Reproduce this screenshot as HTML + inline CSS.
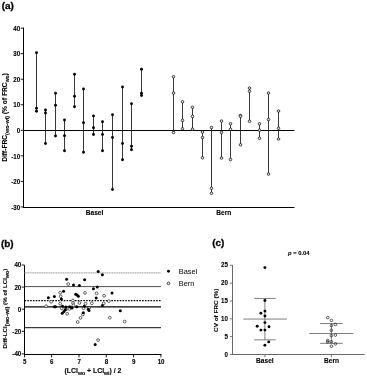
<!DOCTYPE html>
<html><head><meta charset="utf-8"><title>Figure</title>
<style>
html,body{margin:0;padding:0;background:#fff;}
body{width:367px;height:377px;overflow:hidden;}
text{stroke:#000;stroke-width:0.1px;}
svg{display:block;font-family:"Liberation Sans", sans-serif;fill:#000;will-change:transform;opacity:0.999;}
</style></head><body>
<svg width="367" height="377" viewBox="0 0 367 377">
<rect x="0" y="0" width="367" height="377" fill="#fff"/>
<text transform="translate(1.8,8.7) scale(1,1)" font-size="9.9" font-weight="bold" text-anchor="start" style="stroke-width:0.3px">(a)</text>
<line x1="23.5" y1="27.6" x2="23.5" y2="208" stroke="#000" stroke-width="1" />
<line x1="23.0" y1="207.5" x2="294.5" y2="207.5" stroke="#000" stroke-width="1" />
<line x1="23.5" y1="130.5" x2="294.5" y2="130.5" stroke="#000" stroke-width="1" />
<line x1="20.7" y1="28.1" x2="23.5" y2="28.1" stroke="#000" stroke-width="0.9" />
<text transform="translate(20.2,30.8) scale(0.93,1)" font-size="6.7" font-weight="bold" text-anchor="end" >40</text>
<line x1="20.7" y1="53.65" x2="23.5" y2="53.65" stroke="#000" stroke-width="0.9" />
<text transform="translate(20.2,56.35) scale(0.93,1)" font-size="6.7" font-weight="bold" text-anchor="end" >30</text>
<line x1="20.7" y1="79.2" x2="23.5" y2="79.2" stroke="#000" stroke-width="0.9" />
<text transform="translate(20.2,81.9) scale(0.93,1)" font-size="6.7" font-weight="bold" text-anchor="end" >20</text>
<line x1="20.7" y1="104.75" x2="23.5" y2="104.75" stroke="#000" stroke-width="0.9" />
<text transform="translate(20.2,107.45) scale(0.93,1)" font-size="6.7" font-weight="bold" text-anchor="end" >10</text>
<line x1="20.7" y1="130.3" x2="23.5" y2="130.3" stroke="#000" stroke-width="0.9" />
<text transform="translate(20.2,133.0) scale(0.93,1)" font-size="6.7" font-weight="bold" text-anchor="end" >0</text>
<line x1="20.7" y1="155.85" x2="23.5" y2="155.85" stroke="#000" stroke-width="0.9" />
<text transform="translate(20.2,158.54999999999998) scale(0.93,1)" font-size="6.7" font-weight="bold" text-anchor="end" >-10</text>
<line x1="20.7" y1="181.4" x2="23.5" y2="181.4" stroke="#000" stroke-width="0.9" />
<text transform="translate(20.2,184.1) scale(0.93,1)" font-size="6.7" font-weight="bold" text-anchor="end" >-20</text>
<line x1="20.7" y1="206.95" x2="23.5" y2="206.95" stroke="#000" stroke-width="0.9" />
<text transform="translate(20.2,209.64999999999998) scale(0.93,1)" font-size="6.7" font-weight="bold" text-anchor="end" >-30</text>
<text transform="translate(7.1,117.5) rotate(-90)" font-size="6.65" font-weight="bold" text-anchor="middle">Diff-FRC<tspan font-size="5.5" dy="2">(wo-wi)</tspan><tspan dy="-2"> (% of FRC</tspan><tspan font-size="5" dy="2">wo</tspan><tspan dy="-2">)</tspan></text>
<line x1="36.5" y1="52.8" x2="36.5" y2="111.3" stroke="#222" stroke-width="0.9" />
<circle cx="36.5" cy="52.8" r="1.45" fill="#000"/>
<circle cx="36.5" cy="108.3" r="1.45" fill="#000"/>
<circle cx="36.5" cy="111.3" r="1.45" fill="#000"/>
<line x1="45.5" y1="110.05" x2="45.5" y2="143.55" stroke="#222" stroke-width="0.9" />
<circle cx="45.5" cy="110.05" r="1.45" fill="#000"/>
<circle cx="45.5" cy="113.05" r="1.45" fill="#000"/>
<circle cx="45.5" cy="143.55" r="1.45" fill="#000"/>
<line x1="55.5" y1="93.3" x2="55.5" y2="136.05" stroke="#222" stroke-width="0.9" />
<circle cx="55.5" cy="93.3" r="1.45" fill="#000"/>
<circle cx="55.5" cy="105.3" r="1.45" fill="#000"/>
<circle cx="55.5" cy="136.05" r="1.45" fill="#000"/>
<line x1="64.5" y1="120.05" x2="64.5" y2="150.8" stroke="#222" stroke-width="0.9" />
<circle cx="64.5" cy="120.05" r="1.45" fill="#000"/>
<circle cx="64.5" cy="135.8" r="1.45" fill="#000"/>
<circle cx="64.5" cy="150.8" r="1.45" fill="#000"/>
<line x1="74.5" y1="74.3" x2="74.5" y2="106.7" stroke="#222" stroke-width="0.9" />
<circle cx="74.5" cy="74.3" r="1.45" fill="#000"/>
<circle cx="74.5" cy="96.3" r="1.45" fill="#000"/>
<circle cx="74.5" cy="106.7" r="1.45" fill="#000"/>
<line x1="83.5" y1="89.05" x2="83.5" y2="152.3" stroke="#222" stroke-width="0.9" />
<circle cx="83.5" cy="89.05" r="1.45" fill="#000"/>
<circle cx="83.5" cy="122.8" r="1.45" fill="#000"/>
<circle cx="83.5" cy="152.3" r="1.45" fill="#000"/>
<line x1="93.5" y1="115.89999999999999" x2="93.5" y2="134.55" stroke="#222" stroke-width="0.9" />
<circle cx="93.5" cy="115.89999999999999" r="1.45" fill="#000"/>
<circle cx="93.5" cy="127.8" r="1.45" fill="#000"/>
<circle cx="93.5" cy="134.55" r="1.45" fill="#000"/>
<line x1="102.5" y1="121.8" x2="102.5" y2="150.8" stroke="#222" stroke-width="0.9" />
<circle cx="102.5" cy="121.8" r="1.45" fill="#000"/>
<circle cx="102.5" cy="134.55" r="1.45" fill="#000"/>
<circle cx="102.5" cy="150.8" r="1.45" fill="#000"/>
<line x1="112.5" y1="114.7" x2="112.5" y2="189.55" stroke="#222" stroke-width="0.9" />
<circle cx="112.5" cy="114.7" r="1.45" fill="#000"/>
<circle cx="112.5" cy="137.55" r="1.45" fill="#000"/>
<circle cx="112.5" cy="189.55" r="1.45" fill="#000"/>
<line x1="122.5" y1="87.05" x2="122.5" y2="159.8" stroke="#222" stroke-width="0.9" />
<circle cx="122.5" cy="87.05" r="1.45" fill="#000"/>
<circle cx="122.5" cy="143.55" r="1.45" fill="#000"/>
<circle cx="122.5" cy="159.8" r="1.45" fill="#000"/>
<line x1="131.5" y1="103.7" x2="131.5" y2="149.8" stroke="#222" stroke-width="0.9" />
<circle cx="131.5" cy="103.7" r="1.45" fill="#000"/>
<circle cx="131.5" cy="146.3" r="1.45" fill="#000"/>
<circle cx="131.5" cy="149.8" r="1.45" fill="#000"/>
<line x1="141.5" y1="69.3" x2="141.5" y2="95.55" stroke="#222" stroke-width="0.9" />
<circle cx="141.5" cy="69.3" r="1.45" fill="#000"/>
<circle cx="141.5" cy="93.3" r="1.45" fill="#000"/>
<circle cx="141.5" cy="95.55" r="1.45" fill="#000"/>
<line x1="173.5" y1="76.8" x2="173.5" y2="132.5" stroke="#222" stroke-width="0.9" />
<circle cx="173.5" cy="76.8" r="1.3" fill="#e4e4e4" stroke="#000" stroke-width="0.7"/>
<circle cx="173.5" cy="93.05" r="1.3" fill="#e4e4e4" stroke="#000" stroke-width="0.7"/>
<circle cx="173.5" cy="132.5" r="1.3" fill="#e4e4e4" stroke="#000" stroke-width="0.7"/>
<line x1="182.5" y1="101.8" x2="182.5" y2="128.8" stroke="#222" stroke-width="0.9" />
<circle cx="182.5" cy="101.8" r="1.3" fill="#e4e4e4" stroke="#000" stroke-width="0.7"/>
<circle cx="182.5" cy="120.39999999999999" r="1.3" fill="#e4e4e4" stroke="#000" stroke-width="0.7"/>
<circle cx="182.5" cy="128.8" r="1.3" fill="#e4e4e4" stroke="#000" stroke-width="0.7"/>
<line x1="192.5" y1="107.3" x2="192.5" y2="129.20000000000002" stroke="#222" stroke-width="0.9" />
<circle cx="192.5" cy="107.3" r="1.3" fill="#e4e4e4" stroke="#000" stroke-width="0.7"/>
<circle cx="192.5" cy="116.39999999999999" r="1.3" fill="#e4e4e4" stroke="#000" stroke-width="0.7"/>
<circle cx="192.5" cy="129.20000000000002" r="1.3" fill="#e4e4e4" stroke="#000" stroke-width="0.7"/>
<line x1="202.5" y1="132.05" x2="202.5" y2="157.8" stroke="#222" stroke-width="0.9" />
<circle cx="202.5" cy="132.05" r="1.3" fill="#e4e4e4" stroke="#000" stroke-width="0.7"/>
<circle cx="202.5" cy="137.55" r="1.3" fill="#e4e4e4" stroke="#000" stroke-width="0.7"/>
<circle cx="202.5" cy="157.8" r="1.3" fill="#e4e4e4" stroke="#000" stroke-width="0.7"/>
<line x1="211.5" y1="127.55" x2="211.5" y2="193.3" stroke="#222" stroke-width="0.9" />
<circle cx="211.5" cy="127.55" r="1.3" fill="#e4e4e4" stroke="#000" stroke-width="0.7"/>
<circle cx="211.5" cy="188.3" r="1.3" fill="#e4e4e4" stroke="#000" stroke-width="0.7"/>
<circle cx="211.5" cy="193.3" r="1.3" fill="#e4e4e4" stroke="#000" stroke-width="0.7"/>
<line x1="221.5" y1="121.05" x2="221.5" y2="158.05" stroke="#222" stroke-width="0.9" />
<circle cx="221.5" cy="121.05" r="1.3" fill="#e4e4e4" stroke="#000" stroke-width="0.7"/>
<circle cx="221.5" cy="132.5" r="1.3" fill="#e4e4e4" stroke="#000" stroke-width="0.7"/>
<circle cx="221.5" cy="158.05" r="1.3" fill="#e4e4e4" stroke="#000" stroke-width="0.7"/>
<line x1="230.5" y1="123.7" x2="230.5" y2="159.55" stroke="#222" stroke-width="0.9" />
<circle cx="230.5" cy="123.7" r="1.3" fill="#e4e4e4" stroke="#000" stroke-width="0.7"/>
<circle cx="230.5" cy="129.3" r="1.3" fill="#e4e4e4" stroke="#000" stroke-width="0.7"/>
<circle cx="230.5" cy="159.55" r="1.3" fill="#e4e4e4" stroke="#000" stroke-width="0.7"/>
<line x1="240.5" y1="115.55" x2="240.5" y2="144.8" stroke="#222" stroke-width="0.9" />
<circle cx="240.5" cy="115.55" r="1.3" fill="#e4e4e4" stroke="#000" stroke-width="0.7"/>
<circle cx="240.5" cy="116.3" r="1.3" fill="#e4e4e4" stroke="#000" stroke-width="0.7"/>
<circle cx="240.5" cy="144.8" r="1.3" fill="#e4e4e4" stroke="#000" stroke-width="0.7"/>
<line x1="249.5" y1="88.05" x2="249.5" y2="121.3" stroke="#222" stroke-width="0.9" />
<circle cx="249.5" cy="88.05" r="1.3" fill="#e4e4e4" stroke="#000" stroke-width="0.7"/>
<circle cx="249.5" cy="91.3" r="1.3" fill="#e4e4e4" stroke="#000" stroke-width="0.7"/>
<circle cx="249.5" cy="121.3" r="1.3" fill="#e4e4e4" stroke="#000" stroke-width="0.7"/>
<line x1="259.5" y1="123.8" x2="259.5" y2="138.3" stroke="#222" stroke-width="0.9" />
<circle cx="259.5" cy="123.8" r="1.3" fill="#e4e4e4" stroke="#000" stroke-width="0.7"/>
<circle cx="259.5" cy="130.3" r="1.3" fill="#e4e4e4" stroke="#000" stroke-width="0.7"/>
<circle cx="259.5" cy="138.3" r="1.3" fill="#e4e4e4" stroke="#000" stroke-width="0.7"/>
<line x1="268.5" y1="93.05" x2="268.5" y2="174.05" stroke="#222" stroke-width="0.9" />
<circle cx="268.5" cy="93.05" r="1.3" fill="#e4e4e4" stroke="#000" stroke-width="0.7"/>
<circle cx="268.5" cy="119.55" r="1.3" fill="#e4e4e4" stroke="#000" stroke-width="0.7"/>
<circle cx="268.5" cy="174.05" r="1.3" fill="#e4e4e4" stroke="#000" stroke-width="0.7"/>
<line x1="278.5" y1="111.05" x2="278.5" y2="139.05" stroke="#222" stroke-width="0.9" />
<circle cx="278.5" cy="111.05" r="1.3" fill="#e4e4e4" stroke="#000" stroke-width="0.7"/>
<circle cx="278.5" cy="128.3" r="1.3" fill="#e4e4e4" stroke="#000" stroke-width="0.7"/>
<circle cx="278.5" cy="139.05" r="1.3" fill="#e4e4e4" stroke="#000" stroke-width="0.7"/>
<text transform="translate(94.5,214.6) scale(1,1)" font-size="6.6" font-weight="bold" text-anchor="middle" >Basel</text>
<text transform="translate(223.8,214.6) scale(1,1)" font-size="6.6" font-weight="bold" text-anchor="middle" >Bern</text>
<text transform="translate(1.0,246.7) scale(1,1)" font-size="9.9" font-weight="bold" text-anchor="start" style="stroke-width:0.3px">(b)</text>
<line x1="24.5" y1="265.2" x2="24.5" y2="355" stroke="#000" stroke-width="1" />
<line x1="24.0" y1="354.5" x2="161.5" y2="354.5" stroke="#000" stroke-width="1" />
<line x1="21.7" y1="265" x2="24.5" y2="265" stroke="#000" stroke-width="0.9" />
<text transform="translate(21.3,267.4) scale(0.93,1)" font-size="6.7" font-weight="bold" text-anchor="end" >40</text>
<line x1="21.7" y1="287.1" x2="24.5" y2="287.1" stroke="#000" stroke-width="0.9" />
<text transform="translate(21.3,289.5) scale(0.93,1)" font-size="6.7" font-weight="bold" text-anchor="end" >20</text>
<line x1="21.7" y1="309.2" x2="24.5" y2="309.2" stroke="#000" stroke-width="0.9" />
<text transform="translate(21.3,311.59999999999997) scale(0.93,1)" font-size="6.7" font-weight="bold" text-anchor="end" >0</text>
<line x1="21.7" y1="331.3" x2="24.5" y2="331.3" stroke="#000" stroke-width="0.9" />
<text transform="translate(21.3,333.7) scale(0.93,1)" font-size="6.7" font-weight="bold" text-anchor="end" >-20</text>
<line x1="21.7" y1="353.9" x2="24.5" y2="353.9" stroke="#000" stroke-width="0.9" />
<text transform="translate(21.3,356.29999999999995) scale(0.93,1)" font-size="6.7" font-weight="bold" text-anchor="end" >-40</text>
<line x1="24.5" y1="354.5" x2="24.5" y2="357.4" stroke="#000" stroke-width="0.9" />
<text transform="translate(24.7,363.7) scale(0.93,1)" font-size="6.7" font-weight="bold" text-anchor="middle" >5</text>
<line x1="51.6" y1="354.5" x2="51.6" y2="357.4" stroke="#000" stroke-width="0.9" />
<text transform="translate(51.800000000000004,363.7) scale(0.93,1)" font-size="6.7" font-weight="bold" text-anchor="middle" >6</text>
<line x1="79" y1="354.5" x2="79" y2="357.4" stroke="#000" stroke-width="0.9" />
<text transform="translate(79.2,363.7) scale(0.93,1)" font-size="6.7" font-weight="bold" text-anchor="middle" >7</text>
<line x1="106.3" y1="354.5" x2="106.3" y2="357.4" stroke="#000" stroke-width="0.9" />
<text transform="translate(106.5,363.7) scale(0.93,1)" font-size="6.7" font-weight="bold" text-anchor="middle" >8</text>
<line x1="133.6" y1="354.5" x2="133.6" y2="357.4" stroke="#000" stroke-width="0.9" />
<text transform="translate(133.79999999999998,363.7) scale(0.93,1)" font-size="6.7" font-weight="bold" text-anchor="middle" >9</text>
<line x1="160.9" y1="354.5" x2="160.9" y2="357.4" stroke="#000" stroke-width="0.9" />
<text transform="translate(161.1,363.7) scale(0.93,1)" font-size="6.7" font-weight="bold" text-anchor="middle" >10</text>
<line x1="24.5" y1="272.9" x2="161" y2="272.9" stroke="#999" stroke-width="1" stroke-dasharray="1.3 0.45"/>
<line x1="24.5" y1="286.6" x2="161" y2="286.6" stroke="#000" stroke-width="0.7" />
<line x1="24.5" y1="300.7" x2="161" y2="300.7" stroke="#000" stroke-width="1.2" stroke-dasharray="1.6 1.2"/>
<line x1="24.5" y1="306.95" x2="161" y2="306.95" stroke="#000" stroke-width="1.3" />
<line x1="24.5" y1="327.65" x2="161" y2="327.65" stroke="#3a3a3a" stroke-width="1.25" />
<text transform="translate(6.9,308.55) rotate(-90) scale(1,0.9)" font-size="6.2" font-weight="bold" text-anchor="middle">Diff-LCI<tspan font-size="5.7" dy="2.6">(wo-wi)</tspan><tspan dy="-2.6"> (% of LCI</tspan><tspan font-size="5.4" dy="2.6">wo</tspan><tspan dy="-2.6">)</tspan></text>
<text x="92.95" y="372.7" font-size="6.9" font-weight="bold" text-anchor="middle">(LCI<tspan font-size="5.2" dy="1.8">wo</tspan><tspan dy="-1.8"> + LCI</tspan><tspan font-size="5.2" dy="1.8">wi</tspan><tspan dy="-1.8">) / 2</tspan></text>
<circle cx="68.2" cy="284.1" r="1.4" fill="#fff" stroke="#000" stroke-width="0.6"/>
<circle cx="60.2" cy="292.7" r="1.4" fill="#fff" stroke="#000" stroke-width="0.6"/>
<circle cx="60.7" cy="296.3" r="1.4" fill="#fff" stroke="#000" stroke-width="0.6"/>
<circle cx="85" cy="292.9" r="1.4" fill="#fff" stroke="#000" stroke-width="0.6"/>
<circle cx="96.6" cy="293.3" r="1.4" fill="#fff" stroke="#000" stroke-width="0.6"/>
<circle cx="104.1" cy="295.8" r="1.4" fill="#fff" stroke="#000" stroke-width="0.6"/>
<circle cx="51.2" cy="301.7" r="1.4" fill="#fff" stroke="#000" stroke-width="0.6"/>
<circle cx="73" cy="300.5" r="1.4" fill="#fff" stroke="#000" stroke-width="0.6"/>
<circle cx="73" cy="303" r="1.4" fill="#fff" stroke="#000" stroke-width="0.6"/>
<circle cx="73.4" cy="305.4" r="1.4" fill="#fff" stroke="#000" stroke-width="0.6"/>
<circle cx="60.2" cy="303.7" r="1.4" fill="#fff" stroke="#000" stroke-width="0.6"/>
<circle cx="79.5" cy="302.9" r="1.4" fill="#fff" stroke="#000" stroke-width="0.6"/>
<circle cx="85.5" cy="303.7" r="1.4" fill="#fff" stroke="#000" stroke-width="0.6"/>
<circle cx="91.8" cy="303.3" r="1.4" fill="#fff" stroke="#000" stroke-width="0.6"/>
<circle cx="103.7" cy="303.3" r="1.4" fill="#fff" stroke="#000" stroke-width="0.6"/>
<circle cx="108.8" cy="301.1" r="1.4" fill="#fff" stroke="#000" stroke-width="0.6"/>
<circle cx="46.1" cy="306.2" r="1.4" fill="#fff" stroke="#000" stroke-width="0.6"/>
<circle cx="61.8" cy="308.3" r="1.4" fill="#fff" stroke="#000" stroke-width="0.6"/>
<circle cx="65.9" cy="309.4" r="1.4" fill="#fff" stroke="#000" stroke-width="0.6"/>
<circle cx="69.3" cy="309" r="1.4" fill="#fff" stroke="#000" stroke-width="0.6"/>
<circle cx="67.2" cy="313.8" r="1.4" fill="#fff" stroke="#000" stroke-width="0.6"/>
<circle cx="83.6" cy="308.3" r="1.4" fill="#fff" stroke="#000" stroke-width="0.6"/>
<circle cx="82.9" cy="314.5" r="1.4" fill="#fff" stroke="#000" stroke-width="0.6"/>
<circle cx="80.5" cy="317.9" r="1.4" fill="#fff" stroke="#000" stroke-width="0.6"/>
<circle cx="77.7" cy="322" r="1.4" fill="#fff" stroke="#000" stroke-width="0.6"/>
<circle cx="89" cy="308" r="1.4" fill="#fff" stroke="#000" stroke-width="0.6"/>
<circle cx="109.8" cy="317.7" r="1.4" fill="#fff" stroke="#000" stroke-width="0.6"/>
<circle cx="124.7" cy="321.6" r="1.4" fill="#fff" stroke="#000" stroke-width="0.6"/>
<circle cx="98.1" cy="340.1" r="1.4" fill="#fff" stroke="#000" stroke-width="0.6"/>
<circle cx="98.2" cy="271.5" r="1.5" fill="#000"/>
<circle cx="102.4" cy="274.8" r="1.5" fill="#000"/>
<circle cx="66.6" cy="279.3" r="1.5" fill="#000"/>
<circle cx="84.6" cy="279.8" r="1.5" fill="#000"/>
<circle cx="73.5" cy="284.9" r="1.5" fill="#000"/>
<circle cx="79.4" cy="285.4" r="1.5" fill="#000"/>
<circle cx="97.3" cy="286.9" r="1.5" fill="#000"/>
<circle cx="93.4" cy="288.7" r="1.5" fill="#000"/>
<circle cx="63.6" cy="291.3" r="1.5" fill="#000"/>
<circle cx="112" cy="293.1" r="1.5" fill="#000"/>
<circle cx="75.7" cy="294.3" r="1.5" fill="#000"/>
<circle cx="77.1" cy="295.1" r="1.5" fill="#000"/>
<circle cx="78.4" cy="296.3" r="1.5" fill="#000"/>
<circle cx="54.4" cy="296.6" r="1.5" fill="#000"/>
<circle cx="48.4" cy="297.8" r="1.5" fill="#000"/>
<circle cx="96.2" cy="298.1" r="1.5" fill="#000"/>
<circle cx="61.4" cy="299" r="1.5" fill="#000"/>
<circle cx="102.4" cy="305.6" r="1.5" fill="#000"/>
<circle cx="54.4" cy="306.7" r="1.5" fill="#000"/>
<circle cx="55.4" cy="306.7" r="1.5" fill="#000"/>
<circle cx="62.5" cy="306.3" r="1.5" fill="#000"/>
<circle cx="65.9" cy="307" r="1.5" fill="#000"/>
<circle cx="69.7" cy="306.7" r="1.5" fill="#000"/>
<circle cx="72" cy="308.1" r="1.5" fill="#000"/>
<circle cx="76.8" cy="306.7" r="1.5" fill="#000"/>
<circle cx="84.3" cy="306.3" r="1.5" fill="#000"/>
<circle cx="89" cy="310.4" r="1.5" fill="#000"/>
<circle cx="88.3" cy="309.2" r="1.5" fill="#000"/>
<circle cx="65.3" cy="309.7" r="1.5" fill="#000"/>
<circle cx="63.9" cy="311.6" r="1.5" fill="#000"/>
<circle cx="62.2" cy="313.2" r="1.5" fill="#000"/>
<circle cx="83.3" cy="312.7" r="1.5" fill="#000"/>
<circle cx="120.3" cy="310.7" r="1.5" fill="#000"/>
<circle cx="95.2" cy="344.5" r="1.5" fill="#000"/>
<circle cx="168.5" cy="271.2" r="1.45" fill="#000"/>
<circle cx="168.5" cy="283.4" r="1.3" fill="#fff" stroke="#000" stroke-width="0.75"/>
<text transform="translate(178.7,273.6) scale(1,1)" font-size="7.4" font-weight="normal" text-anchor="start" style="stroke:none">Basel</text>
<text transform="translate(178.7,285.8) scale(1,1)" font-size="7.4" font-weight="normal" text-anchor="start" style="stroke:none">Bern</text>
<text transform="translate(212.2,246) scale(1,1)" font-size="9.9" font-weight="bold" text-anchor="start" style="stroke-width:0.3px">(c)</text>
<line x1="232.5" y1="265.0" x2="232.5" y2="355.0" stroke="#686868" stroke-width="1" />
<line x1="232.0" y1="354.5" x2="364.7" y2="354.5" stroke="#686868" stroke-width="1" />
<line x1="229.9" y1="265.3" x2="232.5" y2="265.3" stroke="#686868" stroke-width="0.9" />
<text transform="translate(228.0,267.45) scale(0.93,1)" font-size="6.7" font-weight="bold" text-anchor="end" >25</text>
<line x1="229.9" y1="283.15" x2="232.5" y2="283.15" stroke="#686868" stroke-width="0.9" />
<text transform="translate(228.0,285.29999999999995) scale(0.93,1)" font-size="6.7" font-weight="bold" text-anchor="end" >20</text>
<line x1="229.9" y1="301.0" x2="232.5" y2="301.0" stroke="#686868" stroke-width="0.9" />
<text transform="translate(228.0,303.15) scale(0.93,1)" font-size="6.7" font-weight="bold" text-anchor="end" >15</text>
<line x1="229.9" y1="318.8" x2="232.5" y2="318.8" stroke="#686868" stroke-width="0.9" />
<text transform="translate(228.0,320.95) scale(0.93,1)" font-size="6.7" font-weight="bold" text-anchor="end" >10</text>
<line x1="229.9" y1="336.65" x2="232.5" y2="336.65" stroke="#686868" stroke-width="0.9" />
<text transform="translate(228.0,338.79999999999995) scale(0.93,1)" font-size="6.7" font-weight="bold" text-anchor="end" >5</text>
<line x1="229.9" y1="354.5" x2="232.5" y2="354.5" stroke="#686868" stroke-width="0.9" />
<text transform="translate(228.0,356.65) scale(0.93,1)" font-size="6.7" font-weight="bold" text-anchor="end" >0</text>
<line x1="264.9" y1="354.5" x2="264.9" y2="357.3" stroke="#686868" stroke-width="0.9" />
<line x1="331.4" y1="354.5" x2="331.4" y2="357.3" stroke="#686868" stroke-width="0.9" />
<text transform="translate(264.9,363.4) scale(1,1)" font-size="6.6" font-weight="bold" text-anchor="middle" >Basel</text>
<text transform="translate(331.6,363.4) scale(1,1)" font-size="6.6" font-weight="bold" text-anchor="middle" >Bern</text>
<text transform="translate(217.6,310.3) rotate(-90) scale(1,0.8)" font-size="6.4" font-weight="bold" text-anchor="middle">CV of FRC (%)</text>
<text x="288" y="255" font-size="5.8" font-weight="bold"><tspan font-style="italic">p</tspan> = 0.04</text>
<line x1="264.9" y1="298.45" x2="264.9" y2="339.85" stroke="#707070" stroke-width="0.9" />
<line x1="254.2" y1="298.45" x2="275.7" y2="298.45" stroke="#707070" stroke-width="0.9" />
<line x1="254.2" y1="339.85" x2="275.7" y2="339.85" stroke="#707070" stroke-width="0.9" />
<line x1="243.4" y1="319.05" x2="287" y2="319.05" stroke="#707070" stroke-width="0.9" />
<line x1="331.4" y1="323.55" x2="331.4" y2="343.35" stroke="#707070" stroke-width="0.9" />
<line x1="320.1" y1="323.55" x2="342.7" y2="323.55" stroke="#707070" stroke-width="0.9" />
<line x1="320.1" y1="343.35" x2="342.7" y2="343.35" stroke="#707070" stroke-width="0.9" />
<line x1="309.3" y1="333.5" x2="353.5" y2="333.5" stroke="#707070" stroke-width="0.9" />
<circle cx="264.9" cy="267.6" r="1.45" fill="#000"/>
<circle cx="264.9" cy="300.5" r="1.45" fill="#000"/>
<circle cx="264.9" cy="311.1" r="1.45" fill="#000"/>
<circle cx="260.9" cy="313.3" r="1.45" fill="#000"/>
<circle cx="264.9" cy="316.0" r="1.45" fill="#000"/>
<circle cx="264.9" cy="322.6" r="1.45" fill="#000"/>
<circle cx="257.2" cy="326.3" r="1.45" fill="#000"/>
<circle cx="269" cy="326.7" r="1.45" fill="#000"/>
<circle cx="260.9" cy="330.1" r="1.45" fill="#000"/>
<circle cx="264.9" cy="330.1" r="1.45" fill="#000"/>
<circle cx="268.7" cy="341.9" r="1.45" fill="#000"/>
<circle cx="264.9" cy="345.2" r="1.45" fill="#000"/>
<circle cx="327.8" cy="317.6" r="1.3" fill="none" stroke="#000" stroke-width="0.6"/>
<circle cx="331.4" cy="320.4" r="1.3" fill="none" stroke="#000" stroke-width="0.6"/>
<circle cx="335.4" cy="324.5" r="1.3" fill="none" stroke="#000" stroke-width="0.6"/>
<circle cx="331.4" cy="325.6" r="1.3" fill="none" stroke="#000" stroke-width="0.6"/>
<circle cx="331.4" cy="330.4" r="1.3" fill="none" stroke="#000" stroke-width="0.6"/>
<circle cx="331.4" cy="335.6" r="1.3" fill="none" stroke="#000" stroke-width="0.6"/>
<circle cx="335.4" cy="335.1" r="1.3" fill="none" stroke="#000" stroke-width="0.6"/>
<circle cx="327.8" cy="340.5" r="1.3" fill="none" stroke="#000" stroke-width="0.6"/>
<circle cx="327.7" cy="341.9" r="1.3" fill="none" stroke="#000" stroke-width="0.6"/>
<circle cx="331.4" cy="341.8" r="1.3" fill="none" stroke="#000" stroke-width="0.6"/>
<circle cx="335.4" cy="343.8" r="1.3" fill="none" stroke="#000" stroke-width="0.6"/>
<circle cx="331.4" cy="346.2" r="1.3" fill="none" stroke="#000" stroke-width="0.6"/>
</svg>
</body></html>
